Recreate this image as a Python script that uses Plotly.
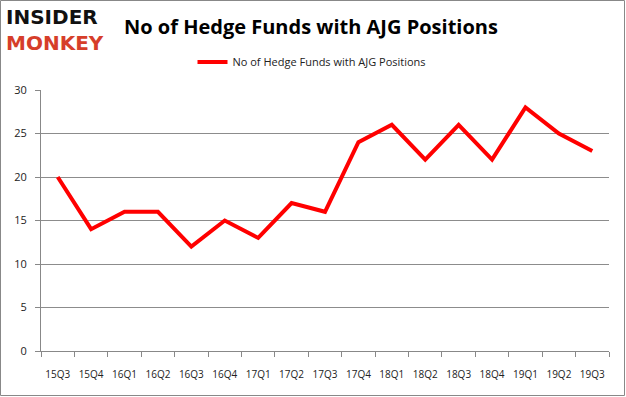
import plotly.graph_objects as go

quarters = ["15Q3", "15Q4", "16Q1", "16Q2", "16Q3", "16Q4", "17Q1", "17Q2", "17Q3",
            "17Q4", "18Q1", "18Q2", "18Q3", "18Q4", "19Q1", "19Q2", "19Q3"]
hedge_funds = [20, 14, 16, 16, 12, 15, 13, 17, 16, 24, 26, 22, 26, 22, 28, 25, 23]
series_name = "No of Hedge Funds with AJG Positions"

W, H = 626, 397
ml, mr, mt, mb = 41, 17, 90, 46
pw, ph = W - ml - mr, H - mt - mb

def px(x):
    return (x - ml) / pw

def py(y):
    return (H - mb - y) / ph

fig = go.Figure()
fig.add_trace(go.Scatter(
    x=quarters, y=hedge_funds, mode="lines", name=series_name,
    line=dict(color="#ff0000", width=4),
))

fig.update_layout(
    width=W, height=H,
    margin=dict(l=ml, r=mr, t=mt, b=mb, autoexpand=False),
    paper_bgcolor="white", plot_bgcolor="white",
    font=dict(family="Open Sans, Liberation Sans, sans-serif", size=11, color="#222"),
    showlegend=True,
    legend=dict(orientation="h", x=px(312), y=py(62), xanchor="center", yanchor="middle",
                font=dict(size=11, color="#222"), bgcolor="rgba(0,0,0,0)"),
    xaxis=dict(type="category", showgrid=False, showline=True, linecolor="#888", linewidth=1,
               ticks="outside", ticklen=5, tickcolor="#888", tickson="boundaries",
               tickangle=0, automargin=False,
               tickfont=dict(size=10, color="#222"), range=[-0.5, 16.5], fixedrange=True,
               ticklabelstandoff=14),
    yaxis=dict(range=[0, 30], dtick=5, showgrid=True, gridcolor="#8c8c8c", gridwidth=1,
               showline=True, linecolor="#888", linewidth=1, ticks="outside", ticklen=5,
               tickcolor="#888", tickfont=dict(size=11, color="#222"), zeroline=False,
               automargin=False, ticklabelstandoff=6),
    shapes=[dict(type="rect", xref="paper", yref="paper",
                 x0=px(0.5), x1=px(W - 1.5), y0=py(H - 1.5), y1=py(0.5),
                 line=dict(color="#888", width=1), fillcolor="rgba(0,0,0,0)", layer="below")],
    annotations=[
        dict(text="<b>No of Hedge Funds with AJG Positions</b>", xref="paper", yref="paper",
             x=px(311), y=py(27), xanchor="center", yanchor="middle", showarrow=False,
             font=dict(size=20, color="#000", family="Open Sans, Liberation Sans, sans-serif")),
        dict(text="<b>INSIDER</b><br><span style='color:#d63e2a'><b>MONKEY</b></span>",
             xref="paper", yref="paper", align="left",
             x=px(4), y=py(30), xanchor="left", yanchor="middle", showarrow=False,
             font=dict(size=20, color="#111", family="DejaVu Sans, sans-serif")),
    ],
)

fig.write_html("out.html", config={"displayModeBar": False},
               post_script="document.body.style.margin='0';document.body.style.overflow='hidden';")
